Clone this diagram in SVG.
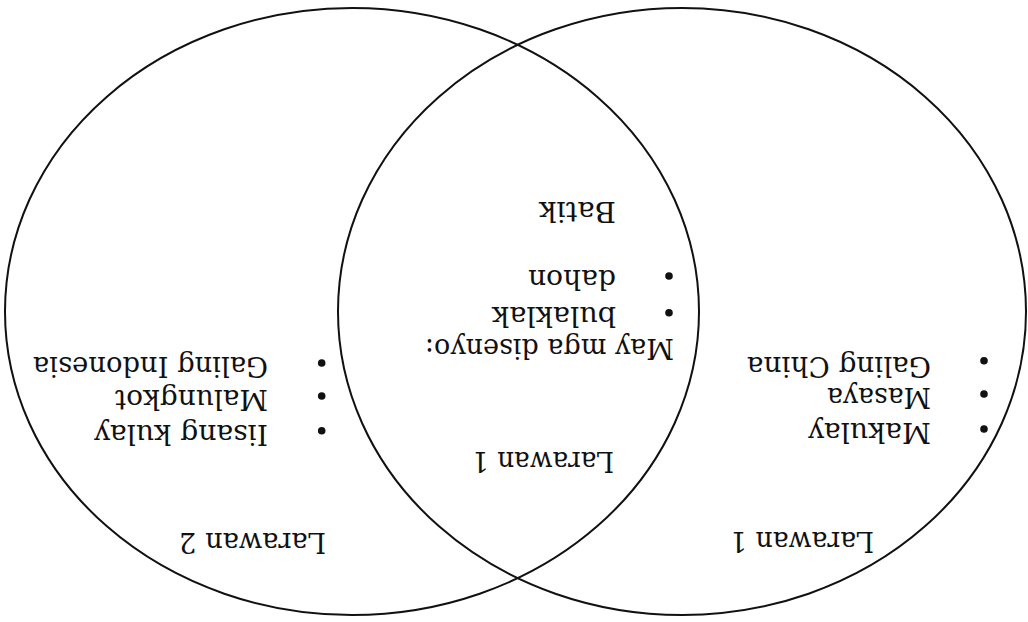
<svg xmlns="http://www.w3.org/2000/svg" width="1028" height="622" viewBox="0 0 1028 622">
<style>
.ring{fill:none;stroke:#111;stroke-width:2}
text{font-family:"DejaVu Serif","Liberation Serif",serif;font-size:27px;fill:#111}
.dot{fill:#111}
</style>
<rect width="1028" height="622" fill="#fff"/>
<g id="connectors"></g>
<g id="circle-a"><ellipse class="ring" cx="352" cy="311.5" rx="347" ry="303.5"/></g>
<g id="circle-b"><ellipse class="ring" cx="682" cy="311.5" rx="344" ry="303.5"/></g>
<g transform="rotate(180 514 311)">
<g id="set-larawan1">
<text x="154" y="90" textLength="144" lengthAdjust="spacingAndGlyphs">Larawan 1</text>
<circle class="dot" cx="44" cy="193" r="3.8"/>
<circle class="dot" cx="44" cy="228" r="3.8"/>
<circle class="dot" cx="44" cy="261.3" r="3.8"/>
<text x="97" y="198.7" textLength="123" lengthAdjust="spacingAndGlyphs">Makulay</text>
<text x="97" y="233.7" textLength="104" lengthAdjust="spacingAndGlyphs">Masaya</text>
<text x="97" y="265.3" textLength="184" lengthAdjust="spacingAndGlyphs">Galing China</text>
</g>
<g id="set-overlap">
<text x="414" y="170" textLength="142" lengthAdjust="spacingAndGlyphs">Larawan 1</text>
<text x="354" y="282.7" textLength="249" lengthAdjust="spacingAndGlyphs">May mga disenyo:</text>
<circle class="dot" cx="359" cy="309.3" r="3.8"/>
<circle class="dot" cx="359" cy="346" r="3.8"/>
<text x="412" y="315.5" textLength="124" lengthAdjust="spacingAndGlyphs">bulaklak</text>
<text x="412" y="352" textLength="88" lengthAdjust="spacingAndGlyphs">dahon</text>
<text x="412" y="420" textLength="77" lengthAdjust="spacingAndGlyphs">Batik</text>
</g>
<g id="set-larawan2">
<text x="702" y="89" textLength="147" lengthAdjust="spacingAndGlyphs">Larawan 2</text>
<circle class="dot" cx="706.3" cy="191.3" r="3.8"/>
<circle class="dot" cx="706.3" cy="226" r="3.8"/>
<circle class="dot" cx="706.3" cy="259" r="3.8"/>
<text x="760" y="197" textLength="174" lengthAdjust="spacingAndGlyphs">Iisang kulay</text>
<text x="760" y="231.7" textLength="153" lengthAdjust="spacingAndGlyphs">Malungkot</text>
<text x="760" y="264.7" textLength="235" lengthAdjust="spacingAndGlyphs">Galing Indonesia</text>
</g>
</g>
</svg>
